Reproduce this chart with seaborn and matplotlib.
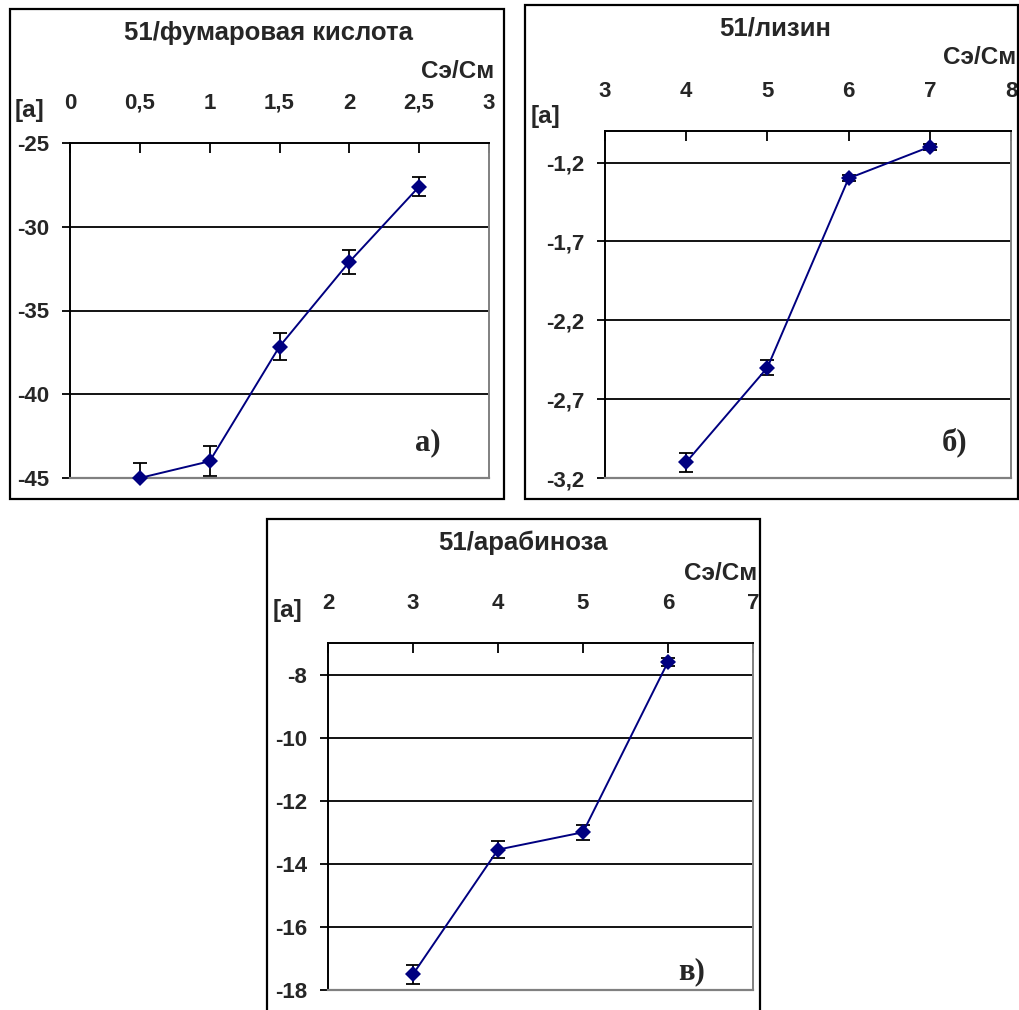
import matplotlib
matplotlib.use("Agg")
import matplotlib.pyplot as plt
import seaborn as sns
from matplotlib.patches import Rectangle

sns.set_theme(style="white")
plt.rcParams['font.family'] = ['Liberation Sans', 'DejaVu Sans']

# ---------------- data ----------------
# panel а) 51/фумаровая кислота
a_x = [0.5, 1.0, 1.5, 2.0, 2.5]
a_y = [-45.0, -44.0, -37.15, -32.1, -27.6]
a_err = [0.9, 0.9, 0.8, 0.7, 0.55]
a_xticks = [0, 0.5, 1, 1.5, 2, 2.5, 3]
a_xlabels = ["0", "0,5", "1", "1,5", "2", "2,5", "3"]
a_yticks = [-45, -40, -35, -30, -25]
a_ylabels = ["-45", "-40", "-35", "-30", "-25"]

# panel б) 51/лизин
b_x = [4, 5, 6, 7]
b_y = [-3.1, -2.5, -1.3, -1.1]
b_err = [0.06, 0.05, 0.02, 0.02]
b_xticks = [3, 4, 5, 6, 7, 8]
b_xlabels = ["3", "4", "5", "6", "7", "8"]
b_yticks = [-3.2, -2.7, -2.2, -1.7, -1.2]
b_ylabels = ["-3,2", "-2,7", "-2,2", "-1,7", "-1,2"]

# panel в) 51/арабиноза
c_x = [3, 4, 5, 6]
c_y = [-17.5, -13.55, -13.0, -7.6]
c_err = [0.3, 0.28, 0.24, 0.13]
c_xticks = [2, 3, 4, 5, 6, 7]
c_xlabels = ["2", "3", "4", "5", "6", "7"]
c_yticks = [-18, -16, -14, -12, -10, -8]
c_ylabels = ["-18", "-16", "-14", "-12", "-10", "-8"]

titles = ["51/фумаровая кислота", "51/лизин", "51/арабиноза"]
panel_tags = ["а)", "б)", "в)"]
xname = "Сэ/См"
yname = "[а]"

W, H = 1019, 1010
fig = plt.figure(figsize=(W / 100, H / 100), dpi=100)
fig.patch.set_facecolor("white")

TICK_FS = 16
NAME_FS = 17.5
TITLE_FS = 18.5
TAG_FS = 22


def px_rect(l, t, r, b):
    return [l / W, 1 - b / H, (r - l) / W, (b - t) / H]


def frame(l, t, r, b):
    fig.patches.append(Rectangle((l / W, 1 - b / H), (r - l) / W, (b - t) / H,
                                 transform=fig.transFigure, fill=False,
                                 edgecolor="black", linewidth=1.6, zorder=0))


NAVY = "#000080"
GRAY = "#808080"


def panel(rect, xs, ys, errs, xlim, ylim, xticks, xlabels, yticks, ylabels, grid_vals):
    ax = fig.add_axes(px_rect(*rect))
    ax.set_facecolor("white")
    for g in grid_vals:
        ax.axhline(g, color="black", lw=1.3, zorder=1)
    ax.errorbar(xs, ys, yerr=errs, fmt="none", ecolor="black", elinewidth=1.3,
                capsize=4.8, capthick=1.3, zorder=2)
    sns.lineplot(x=xs, y=ys, ax=ax, color=NAVY, lw=1.4, marker="D",
                 markersize=8, markeredgewidth=0, markerfacecolor=NAVY,
                 zorder=3, clip_on=False, sort=False)
    ax.set_xlim(*xlim)
    ax.set_ylim(*ylim)
    ax.xaxis.tick_top()
    ax.set_xticks(xticks)
    ax.set_xticklabels(xlabels, fontsize=TICK_FS, fontweight="bold")
    ax.set_yticks(yticks)
    ax.set_yticklabels(ylabels, fontsize=TICK_FS, fontweight="bold")
    ax.tick_params(axis="x", direction="in", length=7, width=1.3, color="black",
                   pad=21, top=True, bottom=False)
    ax.tick_params(axis="y", direction="out", length=6, width=1.3, color="black",
                   pad=9, left=True, right=False)
    ax.spines["top"].set_color("black")
    ax.spines["left"].set_color("black")
    ax.spines["top"].set_linewidth(1.4)
    ax.spines["left"].set_linewidth(1.4)
    ax.spines["right"].set_color(GRAY)
    ax.spines["bottom"].set_color(GRAY)
    ax.spines["right"].set_linewidth(1.4)
    ax.spines["bottom"].set_linewidth(1.6)
    ax.set_xlabel("")
    ax.set_ylabel("")
    ax.grid(False)
    return ax


# frames around each chart
frame(10, 9, 504, 499)
frame(525, 5, 1018, 499)
frame(267, 519, 760, 1030)

axa = panel((70, 143, 489, 478), a_x, a_y, a_err, (0, 3), (-45, -25),
            a_xticks, a_xlabels, a_yticks, a_ylabels, [-40, -35, -30])
axb = panel((605, 131, 1011, 478), b_x, b_y, b_err, (3, 8), (-3.2, -1.0),
            b_xticks, b_xlabels, b_yticks, b_ylabels, [-2.7, -2.2, -1.7, -1.2])
axc = panel((328, 643, 753, 990), c_x, c_y, c_err, (2, 7), (-18, -7),
            c_xticks, c_xlabels, c_yticks, c_ylabels, [-16, -14, -12, -10, -8])


def ftext(x, y, s, **kw):
    fig.text(x / W, 1 - y / H, s, **kw)


# titles
ftext(268, 33, titles[0], fontsize=TITLE_FS, fontweight="bold", ha="center", va="center")
ftext(775, 28, titles[1], fontsize=TITLE_FS, fontweight="bold", ha="center", va="center")
ftext(523, 543, titles[2], fontsize=TITLE_FS, fontweight="bold", ha="center", va="center")

# x axis names
ftext(494, 72, xname, fontsize=NAME_FS, fontweight="bold", ha="right", va="center")
ftext(1016, 58, xname, fontsize=NAME_FS, fontweight="bold", ha="right", va="center")
ftext(757, 573, xname, fontsize=NAME_FS, fontweight="bold", ha="right", va="center")

# y axis names
ftext(29, 110, yname, fontsize=NAME_FS, fontweight="bold", ha="center", va="center")
ftext(546, 117, yname, fontsize=NAME_FS, fontweight="bold", ha="center", va="center")
ftext(288, 610, yname, fontsize=NAME_FS, fontweight="bold", ha="center", va="center")

# panel tags
serif = ["Liberation Serif", "DejaVu Serif"]
ftext(428, 443, panel_tags[0], fontsize=TAG_FS, fontweight="bold", ha="center", va="center", family=serif)
ftext(955, 442, panel_tags[1], fontsize=TAG_FS, fontweight="bold", ha="center", va="center", family=serif)
ftext(692, 972, panel_tags[2], fontsize=TAG_FS, fontweight="bold", ha="center", va="center", family=serif)

fig.savefig("out.png", dpi=100, facecolor="white")
